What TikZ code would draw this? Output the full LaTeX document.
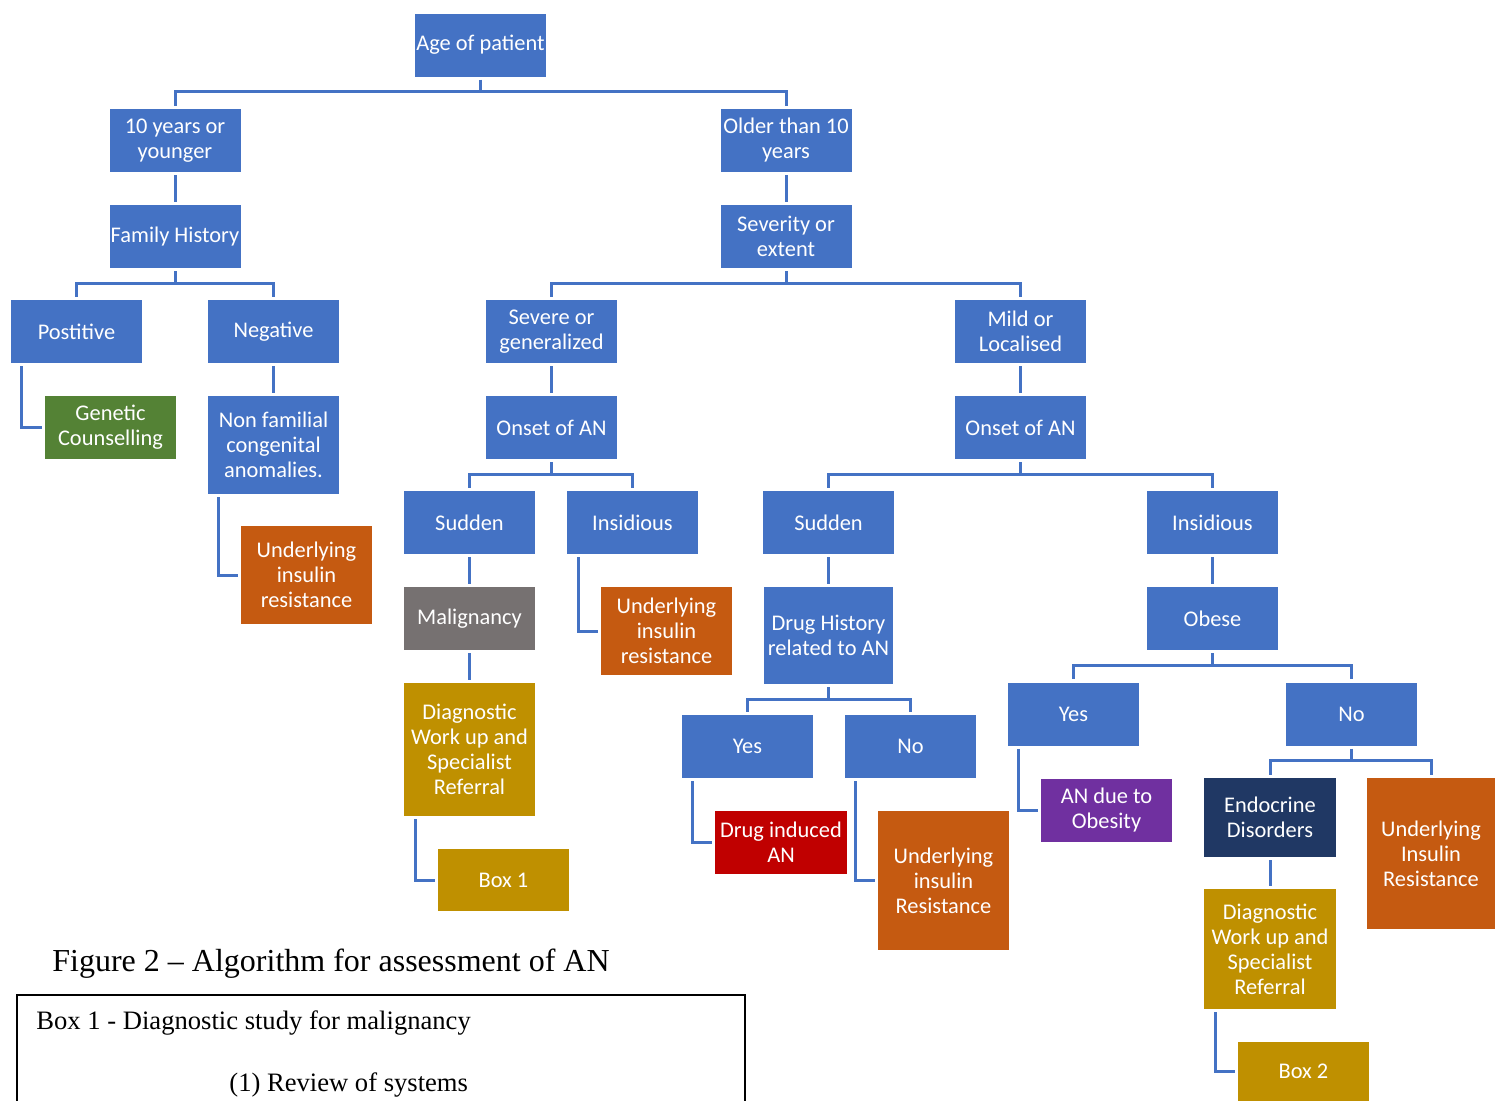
\documentclass[tikz,border=0pt]{standalone}
\usepackage{fontspec}
\setmainfont{Liberation Serif}
\newfontfamily\boxfont{Carlito}
\usepackage{tikz}
\usetikzlibrary{positioning, calc}
\definecolor{anblue}{HTML}{4472C4}
\definecolor{angreen}{HTML}{548235}
\definecolor{anorange}{HTML}{C55A11}
\definecolor{angray}{HTML}{767171}
\definecolor{angold}{HTML}{BF9000}
\definecolor{anred}{HTML}{C00000}
\definecolor{anpurple}{HTML}{7030A0}
\definecolor{annavy}{HTML}{203864}

\begin{document}
\begin{tikzpicture}[
    x=0.5pt, y=-0.5pt,
    base/.style={inner sep=0pt, minimum width=65.5pt, minimum height=31.5pt, align=center, text=white, font=\fontsize{11.2pt}{12.5pt}\selectfont\boxfont},
    qbox/.style={base, fill=anblue},
    greenbox/.style={base, fill=angreen},
    orangebox/.style={base, fill=anorange},
    graybox/.style={base, fill=angray},
    goldbox/.style={base, fill=angold},
    redbox/.style={base, fill=anred},
    purplebox/.style={base, fill=anpurple},
    navybox/.style={base, fill=annavy},
    link/.style={draw=anblue, line width=1.5pt, shorten <=1.5pt, shorten >=1.5pt}
]
    \useasboundingbox (0,0) rectangle (1495,1100);

    % --- TOP LEVEL: AGE ---
    \node[qbox] (age) at (480.5, 45) {Age of patient};
    \node[qbox] (young) at (175, 140.5) {10 years or\\ younger};
    \node[qbox] (older) at (786, 140.5) {Older than 10\\ years};
    \draw[link] (age.south) -- ++(0,15) -| (young.north);
    \draw[link] (age.south) -- ++(0,15) -| (older.north);

    % --- LEFT BRANCH: FAMILY HISTORY ---
    \node[qbox] (family) at (175, 236.5) {Family History};
    \draw[link] (young) -- (family);

    \node[qbox] (positive) at (76.5, 331.5) {Postitive};
    \node[qbox] (negative) at (273.5, 331.5) {Negative};
    \draw[link] (family.south) -- ++(0,15) -| (positive.north);
    \draw[link] (family.south) -- ++(0,15) -| (negative.north);

    \node[greenbox] (genetic) at (110.5, 427.5) {Genetic\\ Counselling};
    \draw[link] ([xshift=5.5pt]positive.south west) |- (genetic.west);

    \node[qbox, minimum height=49pt] (nonfam) at (273.5, 445) {Non familial\\ congenital\\ anomalies.};
    \draw[link] (negative) -- (nonfam);

    \node[orangebox, minimum height=49pt] (insulinA) at (306.5, 575) {Underlying\\ insulin\\ resistance};
    \draw[link] ([xshift=5.5pt]nonfam.south west) |- (insulinA.west);

    % --- RIGHT BRANCH: SEVERITY ---
    \node[qbox] (severity) at (786, 236.5) {Severity or\\ extent};
    \draw[link] (older) -- (severity);

    \node[qbox] (severe) at (551.5, 331.5) {Severe or\\ generalized};
    \node[qbox] (mild) at (1020.5, 331.5) {Mild or\\ Localised};
    \draw[link] (severity.south) -- ++(0,15) -| (severe.north);
    \draw[link] (severity.south) -- ++(0,15) -| (mild.north);

    % Severe or generalized
    \node[qbox] (onsetA) at (551.5, 427.5) {Onset of AN};
    \draw[link] (severe) -- (onsetA);

    \node[qbox] (suddenA) at (469.5, 522.5) {Sudden};
    \node[qbox] (insidA) at (632.5, 522.5) {Insidious};
    \draw[link] (onsetA.south) -- ++(0,15) -| (suddenA.north);
    \draw[link] (onsetA.south) -- ++(0,15) -| (insidA.north);

    \node[graybox] (malig) at (469.5, 618.5) {Malignancy};
    \draw[link] (suddenA) -- (malig);

    \node[goldbox, minimum height=66.5pt] (workupA) at (469.5, 749.5) {Diagnostic\\ Work up and\\ Specialist\\ Referral};
    \draw[link] (malig) -- (workupA);

    \node[goldbox, minimum height=31pt] (boxone) at (503.5, 880) {Box 1};
    \draw[link] ([xshift=6pt]workupA.south west) |- (boxone.west);

    \node[orangebox, minimum height=44pt] (insulinB) at (666.5, 631) {Underlying\\ insulin\\ resistance};
    \draw[link] ([xshift=6pt]insidA.south west) |- (insulinB.west);

    % Mild or localised
    \node[qbox] (onsetB) at (1020.5, 427.5) {Onset of AN};
    \draw[link] (mild) -- (onsetB);

    \node[qbox] (suddenB) at (828.5, 522.5) {Sudden};
    \node[qbox] (insidB) at (1212.5, 522.5) {Insidious};
    \draw[link] (onsetB.south) -- ++(0,15) -| (suddenB.north);
    \draw[link] (onsetB.south) -- ++(0,15) -| (insidB.north);

    \node[qbox, minimum width=64.5pt, minimum height=48.5pt] (drug) at (828.5, 635.5) {Drug History\\ related to AN};
    \draw[link] (suddenB) -- (drug);

    \node[qbox] (yesA) at (747.5, 746.5) {Yes};
    \node[qbox] (noA) at (910.5, 746.5) {No};
    \draw[link] (drug.south) -- ++(0,15) -| (yesA.north);
    \draw[link] (drug.south) -- ++(0,15) -| (noA.north);

    \node[redbox, minimum width=66pt] (druginduced) at (781, 842.5) {Drug induced\\ AN};
    \draw[link] ([xshift=5.5pt]yesA.south west) |- (druginduced.west);

    \node[orangebox, minimum height=69.5pt] (insulinC) at (943.5, 880.5) {Underlying\\ insulin\\ Resistance};
    \draw[link] ([xshift=5.5pt]noA.south west) |- (insulinC.west);

    \node[qbox] (obese) at (1212.5, 618.5) {Obese};
    \draw[link] (insidB) -- (obese);

    \node[qbox] (yesB) at (1073.5, 714) {Yes};
    \node[qbox] (noB) at (1351.5, 714) {No};
    \draw[link] (obese.south) -- ++(0,15) -| (yesB.north);
    \draw[link] (obese.south) -- ++(0,15) -| (noB.north);

    \node[purplebox] (obesity) at (1106.5, 810) {AN due to\\ Obesity};
    \draw[link] ([xshift=5.5pt]yesB.south west) |- (obesity.west);

    \node[navybox, minimum width=66pt, minimum height=39.5pt] (endocrine) at (1270, 817.5) {Endocrine\\ Disorders};
    \node[orangebox, minimum width=64pt, minimum height=75.5pt] (insulinD) at (1431, 853.5) {Underlying\\ Insulin\\ Resistance};
    \draw[link] (noB.south) -- ++(0,15) -| (endocrine.north);
    \draw[link] (noB.south) -- ++(0,15) -| (insulinD.north);

    \node[goldbox, minimum width=66pt, minimum height=60pt] (workupB) at (1270, 949) {Diagnostic\\ Work up and\\ Specialist\\ Referral};
    \draw[link] (endocrine) -- (workupB);

    \node[goldbox, minimum height=29.5pt] (boxtwo) at (1303.5, 1071.5) {Box 2};
    \draw[link] ([xshift=6pt]workupB.south west) |- (boxtwo.west);

    % --- CAPTION AND LEGEND ---
    \node[anchor=west, inner sep=0pt, font=\fontsize{16pt}{19pt}\selectfont] (caption) at (52, 964) {Figure 2 -- Algorithm for assessment of AN};
    \node[draw, line width=0.75pt, anchor=north west, minimum width=364pt, minimum height=100pt] (legend) at (16, 994) {};
    \node[anchor=west, inner sep=0pt, font=\fontsize{13.3pt}{16pt}\selectfont] (legendtitle) at (36, 1023) {Box 1 - Diagnostic study for malignancy};
    \node[anchor=west, inner sep=0pt, font=\fontsize{13.3pt}{16pt}\selectfont] (legendone) at (229, 1085) {(1) Review of systems};
\end{tikzpicture}
\end{document}
